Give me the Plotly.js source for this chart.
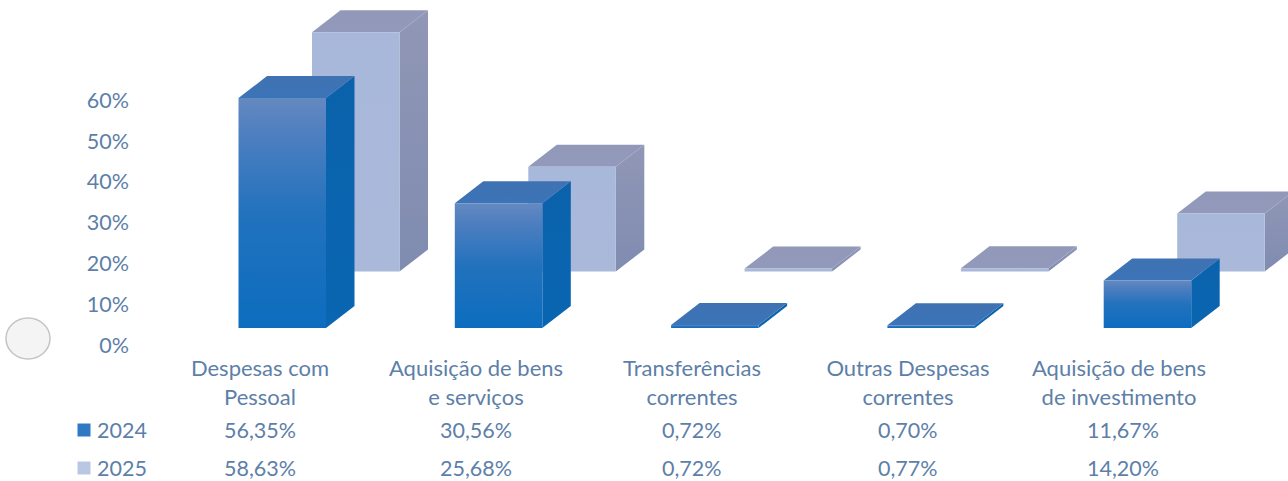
<!DOCTYPE html>
<html><head><meta charset="utf-8">
<script src="https://cdn.plot.ly/plotly-3.0.1.min.js"></script>
<style>html,body{margin:0;padding:0;background:#fff}#c{width:1288px;height:481px}</style>
</head><body><div id="c"></div>
<script>
const categories = ['Despesas com<br>Pessoal','Aquisição de bens<br>e serviços','Transferências<br>correntes','Outras Despesas<br>correntes','Aquisição de bens<br>de investimento'];
const values2024 = [56.35,30.56,0.72,0.70,11.67];
const values2025 = [58.63,25.68,0.72,0.77,14.20];
const yTicks = [0,10,20,30,40,50,60];
const yTickLabels = ['0%','10%','20%','30%','40%','50%','60%'];
const seriesNames = ['2024','2025'];

const W=1288,H=481;
const pxX=216.3, pxY=4.08, y0Px=345, x0Px=260;
const textColor='#5d7fa8', fontFamily='Lato, "Open Sans", sans-serif', fontSize=22, valueSize=21.5;
const yFromPx=p=>(y0Px-p)/pxY;
const xFromPx=p=>(p-x0Px)/pxX;
const labelCentersPx=[260,476,692,908,1119];
const valueCentersPx=[260,476,692,908,1123];

const barW=87.5/pxX, depthX=28.5/pxX, depthY=22/pxY;
const styles2024={off:-21.5/pxX,floor:yFromPx(328),
  front:[[0,'#0c6dbf'],[0.5,'#2272bd'],[0.85,'#4f7fc0'],[1,'#6489c0']],top:[[0,'#3b74b8'],[1,'#3f72b2']],side:[[0,'#0a66b2'],[1,'#0b62ab']]};
const styles2025={off:52/pxX,floor:yFromPx(271.5),
  front:[[0,'#aab9da'],[1,'#a8b8da']],top:[[0,'#9299bb'],[1,'#9298b8']],side:[[0,'#7f8cb0'],[1,'#9197b6']]};

function poly(xs,ys,scale){
  return {type:'scatter',mode:'lines',x:xs.concat(xs[0]),y:ys.concat(ys[0]),fill:'toself',
    line:{width:0,color:scale[0][1]},hoverinfo:'skip',showlegend:false,
    fillgradient:{type:'vertical',colorscale:scale}};
}
function barTraces(values,s){
  const out=[];
  values.forEach((v,i)=>{
    const a=i+s.off,b=a+barW,lo=s.floor,hi=lo+v;
    out.push(poly([b,b+depthX,b+depthX,b],[lo,lo+depthY,hi+depthY,hi],s.side));
    out.push(poly([a,b,b+depthX,a+depthX],[hi,hi,hi+depthY,hi+depthY],s.top));
    out.push(poly([a,b,b,a],[lo,lo,hi,hi],s.front));
  });
  return out;
}
const rowY=[yFromPx(430),yFromPx(468)];
const legendMarks={type:'scatter',mode:'markers',x:[xFromPx(84),xFromPx(84)],y:rowY,cliponaxis:false,
  marker:{symbol:'square',size:13,color:['#2f78c4','#b9c7e3'],line:{width:0}},hoverinfo:'skip',showlegend:false};

const fmt=v=>v.toFixed(2).replace('.',',')+'%';
const annots=[];
[values2024,values2025].forEach((vals,r)=>{
  annots.push({x:xFromPx(95),y:rowY[r],xref:'x',yref:'y',text:seriesNames[r],showarrow:false,xanchor:'left',yanchor:'middle',
    font:{family:fontFamily,size:valueSize,color:textColor}});
  vals.forEach((v,i)=>annots.push({x:xFromPx(valueCentersPx[i]),y:rowY[r],xref:'x',yref:'y',text:fmt(v),showarrow:false,xanchor:'center',yanchor:'middle',
    font:{family:fontFamily,size:valueSize,color:textColor}}));
});

const layout={
  width:W,height:H,margin:{l:0,r:0,t:0,b:0,pad:0},paper_bgcolor:'#fff',plot_bgcolor:'#fff',showlegend:false,
  font:{family:fontFamily,size:fontSize,color:textColor},
  xaxis:{range:[xFromPx(0),xFromPx(W)],tickmode:'array',tickvals:labelCentersPx.map(xFromPx),ticktext:categories,tickangle:0,
    showgrid:false,zeroline:false,showline:false,ticks:'',anchor:'free',position:1-353/H,
    tickfont:{family:fontFamily,size:fontSize,color:textColor}},
  yaxis:{range:[yFromPx(H),yFromPx(0)],tickmode:'array',tickvals:yTicks,ticktext:yTickLabels,
    showgrid:false,zeroline:false,showline:false,ticks:'',anchor:'free',position:129/W,
    tickfont:{family:fontFamily,size:valueSize,color:textColor}},
  annotations:annots,
  shapes:[{type:'circle',xref:'x',yref:'y',x0:xFromPx(6),x1:xFromPx(50),y0:yFromPx(359),y1:yFromPx(318),
    fillcolor:'#f4f4f4',line:{color:'#c4c4c4',width:1.5},layer:'below'}]
};
Plotly.newPlot('c',[...barTraces(values2025,styles2025),...barTraces(values2024,styles2024),legendMarks],layout,{staticPlot:true,displayModeBar:false});
</script></body></html>
